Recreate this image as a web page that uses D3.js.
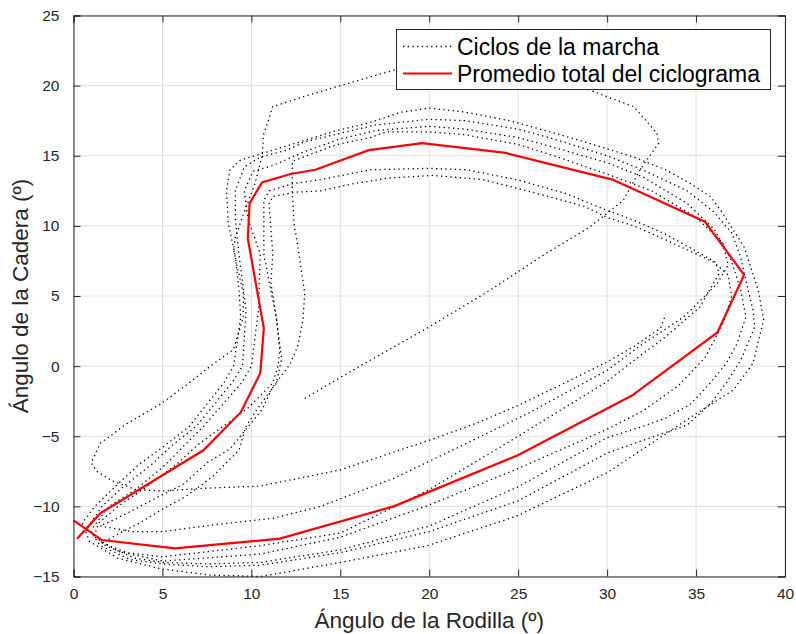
<!DOCTYPE html>
<html>
<head>
<meta charset="utf-8">
<script src="https://cdn.jsdelivr.net/npm/d3@7"></script>
<style>
  body { margin: 0; background: #fff; }
  text { font-family: "Liberation Sans", Arial, Helvetica, sans-serif; }
</style>
</head>
<body>
<svg id="chart" width="796" height="634"></svg>
<script>
// Ejes: ángulo de la rodilla (x) y de la cadera (y), en grados
const xTicks = [0, 5, 10, 15, 20, 25, 30, 35, 40];
const yTicks = [-15, -10, -5, 0, 5, 10, 15, 20, 25];
const legendLabels = ["Ciclos de la marcha", "Promedio total del ciclograma"];

// Ciclos individuales [rodilla, cadera]
const ciclo1 = [[13.0,-2.3],[16.1,0.0],[20.0,2.8],[23.4,5.4],[26.4,7.9],[29.0,9.9],[30.9,11.8],[31.9,14.1],[32.9,15.9],[32.8,16.6],[31.5,18.5],[30.0,19.2],[29.0,19.7],[26.5,20.6],[24.0,21.2],[21.0,21.3],[18.0,21.1],[15.0,20.0],[12.9,19.2],[11.2,18.5],[10.9,17.3],[10.7,16.6],[10.6,15.0],[10.2,13.0],[9.6,11.0],[9.1,9.2],[9.0,8.3],[9.2,7.1],[9.55,5.2],[9.55,3.5],[9.0,1.2],[7.7,0.0],[6.5,-1.2],[4.9,-2.7],[3.0,-4.1],[1.5,-5.5],[1.0,-6.9],[1.3,-7.5],[2.2,-8.2],[3.5,-8.8],[5.0,-8.9],[7.5,-8.7],[10.5,-8.55],[15.0,-7.4],[20.2,-5.2],[22.8,-4.0],[25.0,-2.8],[27.3,-1.4],[30.0,0.3],[31.5,1.4],[33.0,2.7],[33.3,3.7]];

const ciclo2 = [[0.5,-11.2],[0.9,-12.5],[2.5,-13.7],[4.9,-14.45],[7.7,-14.9],[10.5,-15.0],[15.0,-14.0],[19.9,-12.8],[24.9,-10.7],[30.0,-7.6],[35.0,-3.4],[37.1,-1.7],[38.2,0.2],[38.8,3.3],[38.5,5.4],[37.7,8.5],[37.1,9.7],[36.5,10.9],[35.8,12.1],[34.7,13.0],[33.3,14.0],[31.5,14.9],[30.0,15.5],[27.1,16.6],[24.5,17.5],[22.1,18.1],[20.0,18.4],[18.4,18.1],[16.5,17.3],[14.8,16.8],[12.5,15.9],[10.7,15.2],[9.4,14.7],[8.8,14.0],[8.6,12.5],[8.7,10.2],[9.1,7.8],[9.3,5.5],[9.4,3.5],[9.0,0.0],[8.45,-1.2],[6.5,-4.3],[5.0,-5.8],[3.7,-7.0],[2.5,-8.4],[1.2,-10.0],[0.6,-11.0]];

const ciclo3 = [[0.8,-11.5],[1.5,-12.8],[3.2,-13.8],[5.0,-14.1],[7.5,-14.3],[10.5,-14.2],[15.0,-13.3],[20.0,-11.8],[25.0,-9.6],[30.0,-6.2],[32.0,-5.3],[34.5,-4.2],[35.8,-2.7],[36.7,-1.2],[37.5,0.4],[37.9,1.6],[38.3,2.8],[38.2,4.0],[37.8,6.1],[37.5,7.8],[37.0,9.5],[36.0,11.0],[34.5,12.5],[32.0,14.0],[30.0,15.0],[27.0,16.2],[25.0,16.9],[22.0,17.5],[20.0,17.6],[17.0,17.2],[15.0,16.6],[13.0,16.0],[12.0,15.4],[10.5,14.9],[9.6,14.2],[9.1,12.5],[9.1,10.5],[9.3,8.0],[9.7,4.0],[9.5,0.0],[8.9,-1.2],[6.9,-4.3],[5.5,-5.7],[4.4,-7.0],[2.8,-8.6],[1.6,-10.0],[0.9,-11.3]];

const ciclo4 = [[1.0,-11.8],[1.8,-12.8],[3.5,-13.7],[5.0,-14.0],[7.5,-14.1],[10.5,-14.0],[15.0,-13.1],[20.0,-11.4],[25.0,-8.6],[30.0,-5.1],[32.0,-4.3],[33.3,-3.7],[34.7,-2.7],[35.8,-1.2],[36.7,0.2],[37.3,1.6],[37.8,3.5],[37.5,5.5],[36.9,7.8],[36.0,9.8],[34.5,11.6],[32.0,13.5],[30.0,14.5],[27.0,15.6],[25.0,16.3],[22.0,16.9],[20.0,17.1],[17.0,16.8],[15.0,16.2],[13.0,15.3],[11.2,14.3],[10.1,13.9],[9.6,12.5],[9.8,10.5],[10.5,8.0],[10.4,4.0],[10.0,0.0],[9.45,-1.2],[7.3,-4.3],[6.2,-5.7],[5.2,-7.0],[3.6,-8.7],[2.0,-10.0],[1.1,-11.5]];

const ciclo5 = [[1.5,-11.4],[3.3,-11.8],[5.0,-11.8],[8.0,-11.3],[11.2,-10.85],[13.9,-10.0],[18.0,-8.0],[21.7,-5.75],[25.5,-3.4],[30.0,-0.3],[31.8,1.4],[34.3,3.5],[36.2,5.9],[36.8,7.2],[36.5,8.8],[35.0,10.6],[32.5,12.5],[30.0,13.7],[27.0,15.0],[25.0,15.8],[22.0,16.5],[20.0,16.7],[17.6,16.7],[16.7,16.3],[14.8,15.8],[13.1,15.0],[12.3,14.6],[12.3,12.3],[12.4,10.2],[12.7,7.8],[13.0,5.2],[12.9,3.3],[12.6,1.4],[12.2,0.2],[11.8,-0.5],[11.2,-1.5],[10.6,-3.1],[9.7,-4.5],[8.8,-5.9],[7.5,-6.9],[6.2,-8.4],[4.8,-9.3],[3.3,-10.3],[2.2,-11.0],[1.5,-11.4]];

const ciclo6 = [[1.6,-12.6],[3.0,-13.3],[5.0,-13.6],[10.5,-12.8],[15.0,-11.9],[20.0,-8.8],[25.0,-5.0],[30.0,-1.1],[31.5,0.4],[33.3,2.1],[35.2,4.2],[36.3,6.6],[36.1,7.4],[35.0,8.2],[33.3,9.4],[31.5,10.4],[30.0,11.1],[27.7,12.3],[24.9,13.3],[22.1,14.0],[20.0,14.1],[16.7,14.0],[13.9,13.3],[12.3,13.0],[11.0,12.5],[10.7,11.8],[10.7,8.0],[11.0,6.0],[11.4,3.5],[11.7,0.5],[11.4,-1.2],[10.3,-3.1],[9.7,-4.3],[9.3,-6.0],[7.8,-7.9],[6.3,-9.3],[5.0,-10.2],[3.7,-11.2],[2.6,-11.9],[1.9,-12.4]];

const ciclo7 = [[1.2,-12.2],[2.5,-13.2],[5.0,-13.9],[10.5,-13.4],[15.0,-12.2],[20.0,-9.9],[25.0,-7.3],[30.0,-4.5],[32.0,-3.2],[34.0,-1.4],[35.5,0.6],[36.5,3.0],[37.0,5.0],[36.8,6.5],[36.0,7.4],[35.0,8.0],[33.3,9.0],[31.5,10.0],[30.0,10.6],[28.7,11.4],[25.8,12.4],[23.0,13.3],[20.2,13.6],[17.6,13.4],[15.7,13.0],[13.9,12.5],[12.5,12.4],[11.2,12.1],[11.0,11.6],[11.2,8.0],[11.1,5.9],[11.4,3.5],[11.6,1.1],[11.5,0.0],[11.2,-1.2],[9.8,-3.0],[8.4,-4.3],[7.0,-5.6],[5.8,-7.0],[4.0,-8.7],[2.5,-10.0],[1.4,-11.2],[1.2,-12.0]];

// Promedio total del ciclograma [rodilla, cadera]
const promedio = [[0.0,-11.0],[1.6,-12.4],[5.7,-13.0],[11.6,-12.3],[18.0,-10.0],[24.9,-6.4],[31.4,-2.1],[36.2,2.4],[37.7,6.5],[35.5,10.3],[30.3,13.3],[24.3,15.2],[19.6,15.9],[16.6,15.4],[13.6,14.0],[12.2,13.7],[10.6,13.1],[9.9,11.6],[9.8,9.1],[10.7,2.7],[10.5,-0.5],[9.4,-3.3],[7.3,-6.0],[1.5,-10.5],[0.2,-12.3]];

const ciclos = [ciclo1, ciclo2, ciclo3, ciclo4, ciclo5, ciclo6, ciclo7];

const svg = d3.select("#chart");
const plotL = 73.5, plotR = 785, plotT = 15.5, plotB = 576.5;
const x = d3.scaleLinear().domain([0, 40]).range([plotL, plotR]);
const y = d3.scaleLinear().domain([-15, 25]).range([plotB, plotT]);
const axisColor = "#262626";
const fontStack = "'Liberation Sans', Arial, Helvetica, sans-serif";

// Rejilla
const grid = svg.append("g");
grid.selectAll("line.gx").data(xTicks).join("line")
  .attr("class", "gx")
  .attr("x1", d => x(d)).attr("x2", d => x(d))
  .attr("y1", plotT).attr("y2", plotB)
  .attr("stroke", "#dfdfdf").attr("stroke-width", 1);
grid.selectAll("line.gy").data(yTicks).join("line")
  .attr("class", "gy")
  .attr("y1", d => y(d)).attr("y2", d => y(d))
  .attr("x1", plotL).attr("x2", plotR)
  .attr("stroke", "#dfdfdf").attr("stroke-width", 1);

const line = d3.line().x(d => x(d[0])).y(d => y(d[1]));

// Ciclos de la marcha (punteado)
svg.append("g").selectAll("path").data(ciclos).join("path")
  .attr("d", line)
  .attr("fill", "none")
  .attr("stroke", "#000")
  .attr("stroke-width", 1.3)
  .attr("stroke-dasharray", "1.3,3.4");

// Promedio
svg.append("path").datum(promedio)
  .attr("d", line)
  .attr("fill", "none")
  .attr("stroke", "#ff0000")
  .attr("stroke-width", 2.2)
  .attr("stroke-linejoin", "miter");

// Ejes con marcas hacia dentro
const tick = 7;
const fmt = d3.format("d");
const gx = svg.append("g").attr("transform", `translate(0,${plotB})`)
  .call(d3.axisBottom(x).tickValues(xTicks).tickSize(-tick).tickPadding(tick + 9).tickFormat(fmt));
const gxt = svg.append("g").attr("transform", `translate(0,${plotT})`)
  .call(d3.axisTop(x).tickValues(xTicks).tickSize(-tick).tickFormat(""));
const gy = svg.append("g").attr("transform", `translate(${plotL},0)`)
  .call(d3.axisLeft(y).tickValues(yTicks).tickSize(-tick).tickPadding(tick + 7).tickFormat(fmt));
const gyr = svg.append("g").attr("transform", `translate(${plotR},0)`)
  .call(d3.axisRight(y).tickValues(yTicks).tickSize(-tick).tickFormat(""));

[gx, gxt, gy, gyr].forEach(g => {
  g.select(".domain").attr("stroke", axisColor).attr("stroke-width", 1);
  g.selectAll(".tick line").attr("stroke", axisColor).attr("stroke-width", 1);
  g.selectAll(".tick text").attr("fill", axisColor)
    .style("font-size", "15.5px")
    .style("font-family", fontStack);
});
gx.selectAll(".tick text").attr("dy", "0.45em");

// Etiquetas de ejes
svg.append("text")
  .attr("x", (plotL + plotR) / 2).attr("y", 628)
  .attr("text-anchor", "middle")
  .attr("fill", axisColor)
  .style("font-size", "22.5px")
  .text("Ángulo de la Rodilla (º)");
svg.append("text")
  .attr("transform", `translate(28,${(plotT + plotB) / 2}) rotate(-90)`)
  .attr("text-anchor", "middle")
  .attr("fill", axisColor)
  .style("font-size", "22.5px")
  .text("Ángulo de la Cadera (º)");

// Leyenda
const lg = svg.append("g");
lg.append("rect")
  .attr("x", 396.5).attr("y", 29.5).attr("width", 374).attr("height", 60)
  .attr("fill", "#fff").attr("stroke", axisColor).attr("stroke-width", 1);
const rows = [
  { label: legendLabels[0], yy: 46.5, color: "#000", width: 1.3, dash: "1.3,3.4" },
  { label: legendLabels[1], yy: 73.5, color: "#ff0000", width: 2.2, dash: null }
];
rows.forEach(r => {
  lg.append("line")
    .attr("x1", 403).attr("x2", 452).attr("y1", r.yy).attr("y2", r.yy)
    .attr("stroke", r.color).attr("stroke-width", r.width)
    .attr("stroke-dasharray", r.dash);
  lg.append("text")
    .attr("x", 457).attr("y", r.yy + 8)
    .attr("fill", "#000")
    .style("font-size", "23px")
    .text(r.label);
});
</script>
</body>
</html>
